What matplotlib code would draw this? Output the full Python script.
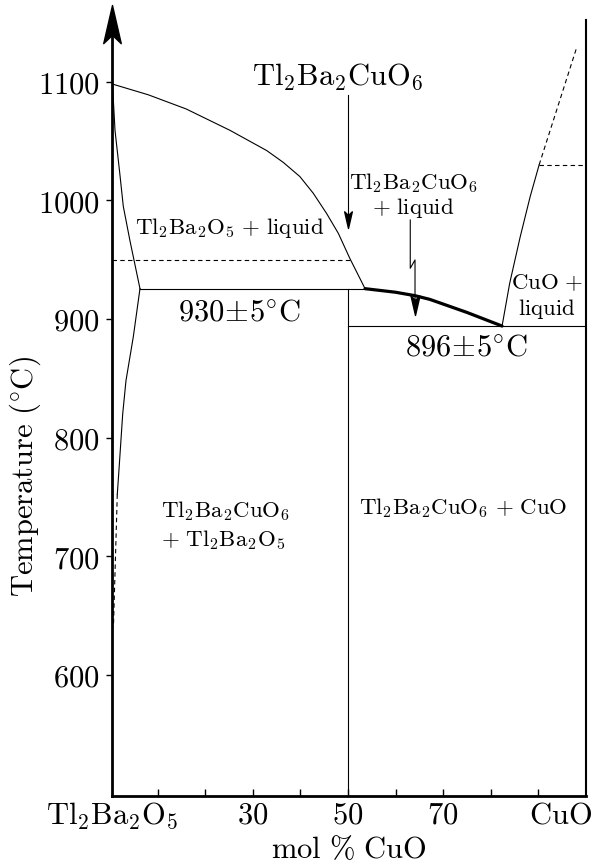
import numpy as np
import matplotlib
matplotlib.use("Agg")
import matplotlib.pyplot as plt
from matplotlib.path import Path

plt.rcParams['mathtext.fontset'] = 'cm'
plt.rcParams['font.family'] = 'serif'

# Curvas do diagrama de fases (mol % CuO, temperatura °C)
liq_esq_x = [0.5, 8.0, 16.0, 25.2, 32.9, 36.4, 39.9, 42.7, 45.5, 48.0, 50.4, 53.6]
liq_esq_y = [1098, 1089, 1077, 1059, 1042, 1032, 1020, 1006, 989, 972, 951, 925.5]

sol_sup_x = [0.5, 1.03, 2.0, 2.77, 4.17, 6.28]
sol_sup_y = [1098, 1059, 1024, 995, 966, 925.5]

sol_inf_x = [6.28, 4.88, 3.34, 2.65, 1.87, 1.51]
sol_inf_y = [925.5, 885, 848, 820, 773, 752]

sol_trac_x = [1.51, 0.7]
sol_trac_y = [752, 640]

peritet_x = [53.6, 60.0, 64.1, 67.2, 75.0, 82.4]
peritet_y = [925.5, 922.5, 919.6, 916.5, 905.5, 894]

liq_dir_x = [82.4, 84.0, 86.2, 88.3, 90.2]
liq_dir_y = [894, 930, 969, 1003, 1030]

liq_dir_trac_x = [90.2, 98.1]
liq_dir_trac_y = [1030, 1129]

t_peritetica = 925.5
t_eutetica = 894
t_trac_esq = 950
t_trac_dir = 1030

yticks = [600, 700, 800, 900, 1000, 1100]
xticks_menores = [10, 20, 30, 40, 50, 60, 70, 80, 90]
xticks_maiores = [0.5, 30, 50, 70, 94.6]
xlabels = [r'$\mathrm{Tl_2Ba_2O_5}$', r'$30$', r'$50$', r'$70$', r'$\mathrm{CuO}$']

# Pontas de seta tipo "stealth" (para cima e para baixo)
codigos = [Path.MOVETO, Path.LINETO, Path.LINETO, Path.LINETO, Path.CLOSEPOLY]
seta_cima = Path([(0, 0), (0.23, -1), (0, -0.78), (-0.23, -1), (0, 0)], codigos)
seta_baixo = Path([(0, 0), (0.23, 1), (0, 0.78), (-0.23, 1), (0, 0)], codigos)

fig = plt.figure(figsize=(5.92, 8.67), dpi=100)
ax = fig.add_axes([0.190, 0.0822, 0.7995, 0.8947])

fino = dict(color='k', lw=0.8)
tracejado = dict(color='k', lw=0.8, ls=(0, (4, 3)))
ax.plot(liq_esq_x, liq_esq_y, **fino)
ax.plot(sol_sup_x, sol_sup_y, **fino)
ax.plot(sol_inf_x, sol_inf_y, **fino)
ax.plot(sol_trac_x, sol_trac_y, **tracejado)
ax.plot(peritet_x, peritet_y, color='k', lw=2.3, solid_capstyle='round')
ax.plot(liq_dir_x, liq_dir_y, **fino)
ax.plot(liq_dir_trac_x, liq_dir_trac_y, **tracejado)

ax.plot([sol_sup_x[-1], liq_esq_x[-1]], [t_peritetica, t_peritetica], **fino)
ax.plot([50, 100], [t_eutetica, t_eutetica], **fino)
ax.plot([50, 50], [498, t_peritetica], **fino)
ax.plot([0.5, 50.5], [t_trac_esq, t_trac_esq], **tracejado)
ax.plot([liq_dir_x[-1], 100], [t_trac_dir, t_trac_dir], **tracejado)

# Setas
ax.plot([50, 50], [1089, 980], **fino)
ax.plot([50], [976.5], marker=seta_baixo, ms=24, color='k', ls='none')
ax.plot([63.1, 63.1, 64.1, 64.1], [983.4, 942.7, 949.7, 906], **fino)
ax.plot([64.1], [903.3], marker=seta_baixo, ms=28, color='k', ls='none')

# Textos
rot = 16.5
ax.text(47.9, 1104, r'$\mathrm{Tl_2Ba_2CuO_6}$', fontsize=22, ha='center', va='center')
ax.text(25.2, 976.5, r'$\mathrm{Tl_2Ba_2O_5}\ {+}\ \mathrm{liquid}$', fontsize=rot,
        ha='center', va='center')
ax.text(27.3, 906, r'$930\!\pm\!5^{\circ}\mathrm{C}$', fontsize=22, ha='center', va='center')
ax.text(63.7, 1004, r'$\mathrm{Tl_2Ba_2CuO_6}$' + '\n' + r'${+}\ \mathrm{liquid}$', fontsize=rot,
        ha='center', va='center', multialignment='center', linespacing=1.1)
ax.text(91.8, 918.7, r'$\mathrm{CuO}\ {+}$' + '\n' + r'$\mathrm{liquid}$', fontsize=rot,
        ha='center', va='center', multialignment='center', linespacing=1.15)
ax.text(75, 876.6, r'$896\!\pm\!5^{\circ}\mathrm{C}$', fontsize=22, ha='center', va='center')
ax.text(10.8, 726, r'$\mathrm{Tl_2Ba_2CuO_6}$' + '\n' + r'${+}\ \mathrm{Tl_2Ba_2O_5}$', fontsize=rot,
        ha='left', va='center', multialignment='left', linespacing=1.25)
ax.text(74.2, 740.5, r'$\mathrm{Tl_2Ba_2CuO_6}\ {+}\ \mathrm{CuO}$', fontsize=rot,
        ha='center', va='center')

ax.set_xlim(0.5, 100)
ax.set_ylim(498, 1152)

ax.set_yticks(yticks)
ax.set_yticklabels([r'$%d$' % t for t in yticks], fontsize=22)
ax.tick_params(axis='y', direction='out', length=4, width=1, pad=5)

ax.xaxis.remove_overlapping_locs = False
ax.set_xticks(xticks_maiores)
ax.set_xticklabels(xlabels, fontsize=22)
ax.set_xticks(xticks_menores, minor=True)
ax.tick_params(axis='x', which='major', length=0, pad=3)
ax.tick_params(axis='x', which='minor', direction='in', length=5, width=1)

ax.set_ylabel(r'$\mathrm{Temperature}\ (^{\circ}\mathrm{C})$', fontsize=22)
ax.yaxis.set_label_coords(-0.147, 0.4115)
ax.set_xlabel(r'$\mathrm{mol}\ \%\ \mathrm{CuO}$', fontsize=22)
ax.xaxis.set_label_coords(0.5, -0.05)

ax.spines['top'].set_visible(False)
ax.spines['left'].set_linewidth(2)
ax.spines['bottom'].set_linewidth(2)
ax.spines['right'].set_linewidth(1.5)

# Seta no eixo da temperatura
ax.plot([0], [1 + 15 / 775.7], marker=seta_cima, ms=55, color='k', transform=ax.transAxes,
        clip_on=False, ls='none')

fig.savefig('out.png', dpi=100)
